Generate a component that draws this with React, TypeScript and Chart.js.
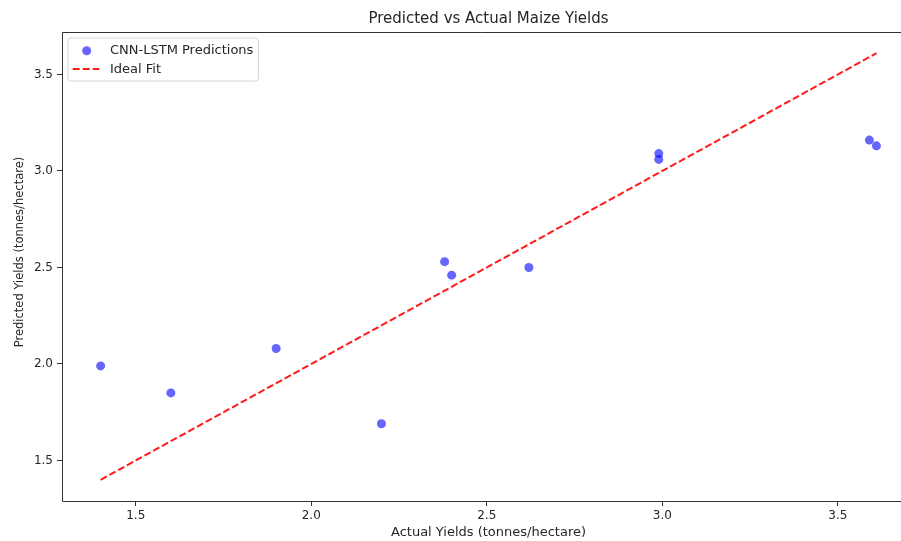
import React, { useEffect, useRef } from "react";
import { Chart, registerables } from "chart.js";

Chart.register(...registerables);

const actualYields = [1.40, 1.60, 1.90, 2.20, 2.38, 2.40, 2.62, 2.99, 2.99, 3.59, 3.61];
const predictedYields = [1.99, 1.85, 2.08, 1.69, 2.53, 2.46, 2.50, 3.09, 3.06, 3.16, 3.13];
const xTicks = [1.5, 2.0, 2.5, 3.0, 3.5];
const yTicks = [1.5, 2.0, 2.5, 3.0, 3.5];
const seriesLabels = ["CNN-LSTM Predictions", "Ideal Fit"];
const chartTitle = "Predicted vs Actual Maize Yields";
const xTitle = "Actual Yields (tonnes/hectare)";
const yTitle = "Predicted Yields (tonnes/hectare)";
// visible x range (the right part of the axes is cropped in the reference)
const xRange = [1.29, 3.68];
const yRange = [1.29, 3.72];

const FONT = "'DejaVu Sans', sans-serif";
const TEXT = "#262626";
const BLUE = "rgba(0,0,255,0.6)";
const RED = "rgba(255,0,0,0.9)";

const lo = Math.min(...actualYields);
const hi = Math.max(...actualYields);

const framePlugin = {
  id: "frameAndLegend",
  afterDraw(chart: any) {
    const { ctx, chartArea } = chart;
    ctx.save();
    ctx.strokeStyle = "#333";
    ctx.lineWidth = 1;
    ctx.beginPath();
    ctx.moveTo(chart.width, chartArea.top + 0.5);
    ctx.lineTo(chartArea.left + 0.5, chartArea.top + 0.5);
    ctx.lineTo(chartArea.left + 0.5, chartArea.bottom + 0.5);
    ctx.lineTo(chart.width, chartArea.bottom + 0.5);
    ctx.stroke();

    // titles (the full axes box extends past the right edge, so centre on it)
    const axesCenterX = 488.5;
    ctx.fillStyle = TEXT;
    ctx.textAlign = "center";
    ctx.textBaseline = "middle";
    ctx.font = `15px ${FONT}`;
    ctx.fillText(chartTitle, axesCenterX, 19);
    ctx.font = `13px ${FONT}`;
    ctx.fillText(xTitle, axesCenterX, 533);
    ctx.save();
    ctx.translate(20, 252);
    ctx.rotate(-Math.PI / 2);
    ctx.font = `11.5px ${FONT}`;
    ctx.fillText(yTitle, 0, 0);
    ctx.restore();

    // legend
    ctx.font = `13px ${FONT}`;
    const tw = Math.max(...seriesLabels.map((s) => ctx.measureText(s).width));
    const bx = chartArea.left + 6;
    const by = chartArea.top + 6;
    const bw = 42 + tw + 5;
    const bh = 43;
    ctx.beginPath();
    const r = 3;
    ctx.moveTo(bx + r, by);
    ctx.arcTo(bx + bw, by, bx + bw, by + bh, r);
    ctx.arcTo(bx + bw, by + bh, bx, by + bh, r);
    ctx.arcTo(bx, by + bh, bx, by, r);
    ctx.arcTo(bx, by, bx + bw, by, r);
    ctx.closePath();
    ctx.fillStyle = "rgba(255,255,255,0.8)";
    ctx.fill();
    ctx.strokeStyle = "#d6d6d6";
    ctx.lineWidth = 1;
    ctx.stroke();
    ctx.beginPath();
    ctx.arc(bx + 18.7, by + 12.7, 4.5, 0, Math.PI * 2);
    ctx.fillStyle = BLUE;
    ctx.fill();
    ctx.beginPath();
    ctx.setLineDash([7, 3]);
    ctx.strokeStyle = RED;
    ctx.lineWidth = 2;
    ctx.moveTo(bx + 4.7, by + 31);
    ctx.lineTo(bx + 31.3, by + 31);
    ctx.stroke();
    ctx.setLineDash([]);
    ctx.fillStyle = TEXT;
    ctx.textBaseline = "middle";
    ctx.textAlign = "left";
    ctx.fillText(seriesLabels[0], bx + 42, by + 13);
    ctx.fillText(seriesLabels[1], bx + 42, by + 31.5);
    ctx.restore();
  },
};

export default function App() {
  const ref = useRef<HTMLCanvasElement | null>(null);
  useEffect(() => {
    if (!ref.current) return;
    const chart = new Chart(ref.current, {
      type: "scatter",
      data: {
        datasets: [
          {
            type: "scatter",
            label: seriesLabels[0],
            data: actualYields.map((x, i) => ({ x, y: predictedYields[i] })),
            backgroundColor: BLUE,
            borderColor: "rgba(0,0,0,0)",
            borderWidth: 0,
            pointRadius: 4.5,
            order: 2,
          },
          {
            type: "line",
            label: seriesLabels[1],
            data: [
              { x: lo, y: lo },
              { x: hi, y: hi },
            ],
            borderColor: RED,
            borderWidth: 2,
            borderDash: [7, 3],
            pointRadius: 0,
            fill: false,
            order: 1,
          } as any,
        ],
      },
      options: {
        responsive: false,
        animation: false,
        layout: { padding: { top: 32, left: 0, right: 0, bottom: 0 }, autoPadding: false },
        plugins: {
          legend: { display: false },
          tooltip: { enabled: false },
          title: { display: false },
        },
        scales: {
          x: {
            type: "linear",
            min: xRange[0],
            max: xRange[1],
            afterBuildTicks: (axis: any) => {
              axis.ticks = xTicks.map((v) => ({ value: v }));
            },
            afterFit: (axis: any) => {
              axis.height = 40;
              axis.paddingLeft = 0;
              axis.paddingRight = 0;
            },
            border: { display: false },
            grid: { drawOnChartArea: false, drawTicks: true, tickLength: 5, color: "#333" },
            ticks: {
              color: TEXT,
              padding: 3,
              font: { family: FONT, size: 12 },
              maxRotation: 0,
              callback: (v: any) => Number(v).toFixed(1),
            },
            title: { display: false },
          },
          y: {
            type: "linear",
            min: yRange[0],
            max: yRange[1],
            afterBuildTicks: (axis: any) => {
              axis.ticks = yTicks.map((v) => ({ value: v }));
            },
            afterFit: (axis: any) => {
              axis.width = 62;
              axis.paddingTop = 0;
              axis.paddingBottom = 0;
            },
            border: { display: false },
            grid: { drawOnChartArea: false, drawTicks: true, tickLength: 5, color: "#333" },
            ticks: {
              color: TEXT,
              padding: 4,
              font: { family: FONT, size: 12 },
              callback: (v: any) => Number(v).toFixed(1),
            },
            title: { display: false },
          },
        },
      },
      plugins: [framePlugin],
    });
    return () => chart.destroy();
  }, []);
  return (
    <div style={{ position: "absolute", left: 0, top: 0, width: 901, height: 541, overflow: "hidden", background: "#fff" }}>
      <canvas ref={ref} width={901} height={541} style={{ width: 901, height: 541, display: "block" }} />
    </div>
  );
}
